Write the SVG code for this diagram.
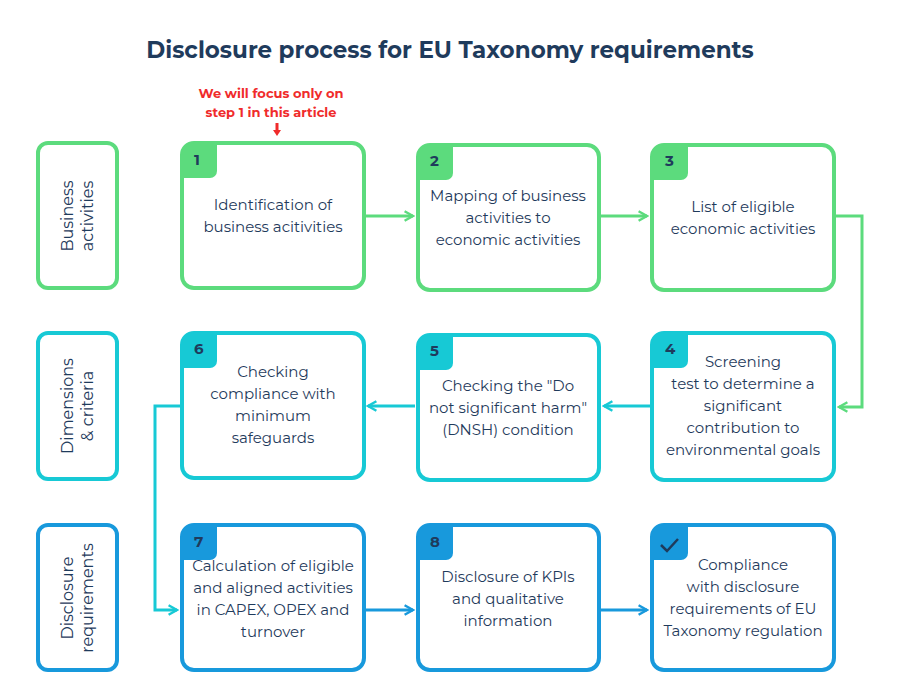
<svg xmlns="http://www.w3.org/2000/svg" width="900" height="700" viewBox="0 0 900 700">
<defs>
<style>
text{font-family:"Montserrat","Open Sans","Liberation Sans",sans-serif;fill:#1f3b5c;text-anchor:middle;font-size:15px}
.box{fill:#fff;stroke-width:4}
.g{stroke:#5cdb7d}.c{stroke:#17c9d5}.b{stroke:#1899dc}
.gf{fill:#5cdb7d}.cf{fill:#17c9d5}.bf{fill:#1899dc}
.num{font-size:15px;font-weight:bold;text-anchor:start}
.side{font-size:16px}
.con{fill:none;stroke-width:3}
</style>
<marker id="mg" viewBox="0 0 10 10" refX="8" refY="5" markerWidth="4" markerHeight="4" orient="auto"><path d="M1 1L8 5L1 9" fill="none" stroke="#5cdb7d" stroke-width="2"/></marker>
<marker id="mc" viewBox="0 0 10 10" refX="8" refY="5" markerWidth="4" markerHeight="4" orient="auto"><path d="M1 1L8 5L1 9" fill="none" stroke="#17c9d5" stroke-width="2"/></marker>
<marker id="mb" viewBox="0 0 10 10" refX="8" refY="5" markerWidth="4" markerHeight="4" orient="auto"><path d="M1 1L8 5L1 9" fill="none" stroke="#1899dc" stroke-width="2"/></marker>
</defs>
<rect width="900" height="700" fill="#fff"/>
<text x="450" y="58" style="font-size:23px;font-weight:bold">Disclosure process for EU Taxonomy requirements</text>
<text x="271" y="98" style="fill:#f02b2b;font-size:13px;font-weight:bold">We will focus only on</text>
<text x="271" y="117" style="fill:#f02b2b;font-size:13px;font-weight:bold">step 1 in this article</text>
<path d="M277 123V131" stroke="#f02b2b" stroke-width="3"/><path d="M273 130L277 136L281 130Z" fill="#f02b2b"/>

<g id="lane1"><rect class="box g" x="38" y="143" width="79" height="145" rx="10"/><text class="side" transform="translate(78 216) rotate(-90)"><tspan x="0" y="-5">Business</tspan><tspan x="0" y="15">activities</tspan></text></g>
<g id="lane2"><rect class="box c" x="38" y="333" width="79" height="146" rx="10"/><text class="side" transform="translate(78 406) rotate(-90)"><tspan x="0" y="-5">Dimensions</tspan><tspan x="0" y="15">&amp; criteria</tspan></text></g>
<g id="lane3"><rect class="box b" x="38" y="525" width="79" height="145" rx="10"/><text class="side" transform="translate(78 598) rotate(-90)"><tspan x="0" y="-5">Disclosure</tspan><tspan x="0" y="15">requirements</tspan></text></g>

<g id="connectors">
<path class="con" d="M366 216H413" stroke="#5cdb7d" marker-end="url(#mg)"/>
<path class="con" d="M601 216H647" stroke="#5cdb7d" marker-end="url(#mg)"/>
<path class="con" d="M836 216H862V407H839" stroke="#5cdb7d" marker-end="url(#mg)"/>
<path class="con" d="M650 406H604" stroke="#17c9d5" marker-end="url(#mc)"/>
<path class="con" d="M415 406H368" stroke="#17c9d5" marker-end="url(#mc)"/>
<path class="con" d="M180 406H155V610H177" stroke="#17c9d5" marker-end="url(#mc)"/>
<path class="con" d="M366 610H413" stroke="#1899dc" marker-end="url(#mb)"/>
<path class="con" d="M601 610H647" stroke="#1899dc" marker-end="url(#mb)"/>
</g>

<g id="n1"><rect class="box g" x="182" y="143" width="182" height="145" rx="12"/><path class="gf" d="M182 155a12 12 0 0 1 12-12H217V171a7 7 0 0 1-7 7H182Z"/><text class="num" x="194" y="165">1</text><text x="273" y="210">Identification of</text><text x="273" y="232">business acitivities</text></g>
<g id="n2"><rect class="box g" x="418" y="145" width="181" height="145" rx="12"/><path class="gf" d="M418 157a12 12 0 0 1 12-12H453V173a7 7 0 0 1-7 7H418Z"/><text class="num" x="430" y="166">2</text><text x="508" y="201">Mapping of business</text><text x="508" y="223">activities to</text><text x="508" y="245">economic activities</text></g>
<g id="n3"><rect class="box g" x="652" y="145" width="182" height="145" rx="12"/><path class="gf" d="M652 157a12 12 0 0 1 12-12H688V173a7 7 0 0 1-7 7H652Z"/><text class="num" x="665" y="166">3</text><text x="743" y="212">List of eligible</text><text x="743" y="234">economic activities</text></g>
<g id="n6"><rect class="box c" x="182" y="333" width="182" height="145" rx="12"/><path class="cf" d="M182 345a12 12 0 0 1 12-12H217V361a7 7 0 0 1-7 7H182Z"/><text class="num" x="194" y="354">6</text><text x="273" y="377">Checking</text><text x="273" y="399">compliance with</text><text x="273" y="421">minimum</text><text x="273" y="443">safeguards</text></g>
<g id="n5"><rect class="box c" x="418" y="335" width="181" height="145" rx="12"/><path class="cf" d="M418 347a12 12 0 0 1 12-12H453V363a7 7 0 0 1-7 7H418Z"/><text class="num" x="430" y="356">5</text><text x="508" y="391">Checking the "Do</text><text x="508" y="413">not significant harm"</text><text x="508" y="435">(DNSH) condition</text></g>
<g id="n4"><rect class="box c" x="652" y="333" width="182" height="147" rx="12"/><path class="cf" d="M652 345a12 12 0 0 1 12-12H688V361a7 7 0 0 1-7 7H652Z"/><text class="num" x="665" y="354">4</text><text x="743" y="367">Screening</text><text x="743" y="389">test to determine a</text><text x="743" y="411">significant</text><text x="743" y="433">contribution to</text><text x="743" y="455">environmental goals</text></g>
<g id="n7"><rect class="box b" x="182" y="525" width="182" height="145" rx="12"/><path class="bf" d="M182 537a12 12 0 0 1 12-12H217V553a7 7 0 0 1-7 7H182Z"/><text class="num" x="194" y="547">7</text><text x="273" y="571">Calculation of eligible</text><text x="273" y="593">and aligned activities</text><text x="273" y="615">in CAPEX, OPEX and</text><text x="273" y="637">turnover</text></g>
<g id="n8"><rect class="box b" x="418" y="525" width="181" height="145" rx="12"/><path class="bf" d="M418 537a12 12 0 0 1 12-12H453V553a7 7 0 0 1-7 7H418Z"/><text class="num" x="430" y="547">8</text><text x="508" y="582">Disclosure of KPIs</text><text x="508" y="604">and qualitative</text><text x="508" y="626">information</text></g>
<g id="n9"><rect class="box b" x="652" y="525" width="182" height="145" rx="12"/><path class="bf" d="M652 537a12 12 0 0 1 12-12H688V553a7 7 0 0 1-7 7H652Z"/><path d="M661 545l6 6l11-12" fill="none" stroke="#1f3b5c" stroke-width="2.5"/><text x="743" y="570">Compliance</text><text x="743" y="592">with disclosure</text><text x="743" y="614">requirements of EU</text><text x="743" y="636">Taxonomy regulation</text></g>
</svg>
